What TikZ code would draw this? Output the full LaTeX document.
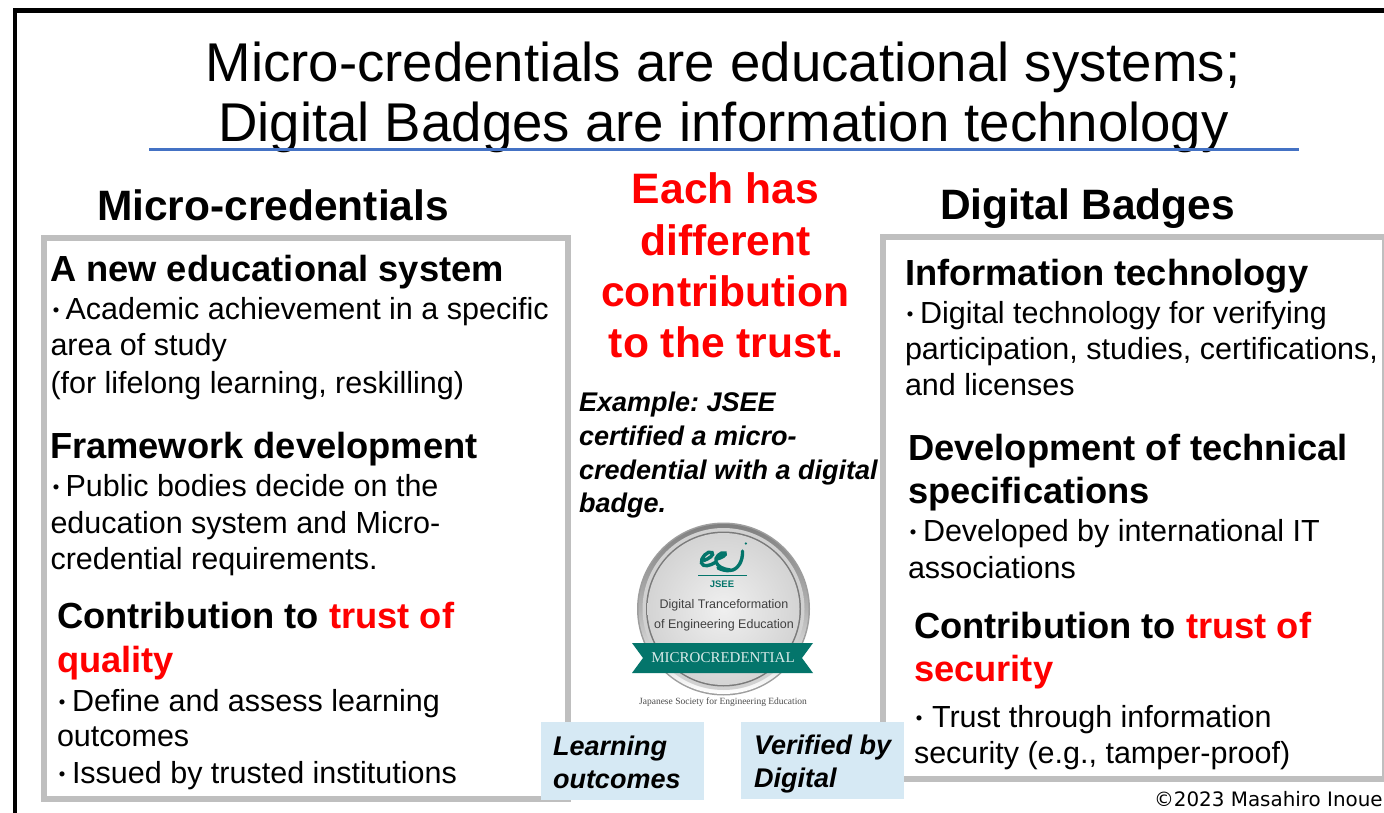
\documentclass[tikz,border=0pt]{standalone}
\usepackage{fontspec}
\setmainfont{Liberation Sans}
\newfontfamily\serifbadge{Liberation Serif}
\newfontfamily\cjk{Noto Sans CJK JP}
\newfontfamily\dejavu{DejaVu Sans}
\definecolor{boxgray}{HTML}{BFBFBF}
\definecolor{rulecol}{HTML}{4472C4}
\definecolor{tagblue}{HTML}{D6E9F4}
\definecolor{teal}{HTML}{04756B}
\definecolor{trustred}{HTML}{FF0000}
\newcommand{\fs}[1]{\fontsize{#1}{#1}\selectfont}
\newcommand{\bul}{\makebox[11pt][c]{\cjk\fontsize{24}{24}\selectfont ・}\kern4pt}
\frenchspacing
\tikzset{
  x=1pt,y=-1pt,
  txt/.style={anchor=base west,inner sep=0pt,outer sep=0pt},
  ttl/.style={txt,font=\fs{54.6}},
  hd/.style={txt,font=\fs{42.5}\bfseries},
  sub/.style={txt,font=\fs{36.3}\bfseries},
  body/.style={txt,font=\fs{30.5}},
  mid/.style={txt,anchor=base,font=\fs{42.6}\bfseries,text=trustred},
  ex/.style={txt,font=\fs{27}\bfseries\itshape},
  panel/.style={draw=boxgray,line width=6pt,fill=white},
  tag/.style={fill=tagblue,draw=none},
  logo/.style={draw=teal,line width=3.4pt,line cap=round},
}
\begin{document}
\begin{tikzpicture}
\useasboundingbox (0,0) rectangle (1384,813);
\fill[white] (0,0) rectangle (1384,813);
\draw[line width=4.6pt] (15,813) -- (15,10.8) -- (1384,10.8);
\node[ttl,anchor=base] (t1) at (723,81.5) {Micro-credentials are educational systems;};
\node[ttl,anchor=base] (t2) at (723.5,142) {Digital Badges are information technology};
\draw[rulecol,line width=3pt] (149,149.5) -- (1299,149.5);
\draw[panel] (43.5,238) rectangle (568,799);
\draw[panel] (883,237) rectangle (1385,779);
\node[hd] (h1) at (97,221) {Micro-credentials};
\node[hd] (h2) at (940,219) {Digital Badges};
% left
\node[sub] at (50,281) {A new educational system};
\node[body] at (50.5,319) {\bul Academic achievement in a specific};
\node[body] at (50.5,355) {area of study};
\node[body] at (50.5,393) {(for lifelong learning, reskilling)};
\node[sub] at (50,458) {Framework development};
\node[body] at (50.5,496) {\bul Public bodies decide on the};
\node[body] at (50.5,533) {education system and Micro-};
\node[body] at (50.5,569) {credential requirements.};
\node[sub] at (57,628.5) {Contribution to \textcolor{trustred}{trust of}};
\node[sub,text=trustred] at (57,672) {quality};
\node[body] at (57,711) {\bul Define and assess learning};
\node[body] at (57,746) {outcomes};
\node[body] at (57,783) {\bul Issued by trusted institutions};
% right
\node[sub] at (905,285) {Information technology};
\node[body] at (905,323) {\bul Digital technology for verifying};
\node[body] at (905,359) {participation, studies, certifications,};
\node[body] at (905,395) {and licenses};
\node[sub] at (908,460) {Development of technical};
\node[sub] at (908,503) {specifications};
\node[body] at (908,541) {\bul Developed by international IT};
\node[body] at (908,578) {associations};
\node[sub] at (914,638) {Contribution to \textcolor{trustred}{trust of}};
\node[sub,text=trustred] at (914,681) {security};
\node[body] at (914,727) {\bul\kern3pt Trust through information};
\node[body] at (914,763) {security (e.g., tamper-proof)};
% middle
\node[mid] at (725.5,204) {Each has};
\node[mid] at (725.5,255) {different};
\node[mid] at (725.5,306) {contribution};
\node[mid] at (726,357) {to the trust.};
\node[ex] at (579,411) {Example: JSEE};
\node[ex] at (579,445) {certified a micro-};
\node[ex] at (579,479) {credential with a digital};
\node[ex] at (579,512) {badge.};
% badge
\coordinate (bc) at (723.5,609);
\fill[black!38] (bc) circle (86.5);
\shade[inner color=black!5,outer color=white,middle color=black!30] (bc) circle (85);
\fill[black!18] (bc) circle (81);
\fill[black!52] (bc) circle (77.5);
\shade[inner color=black!6,outer color=black!17] (bc) circle (76);
\fill[teal] (632,643) -- (813,643) -- (802,658) -- (813,673) -- (632,673) -- (643,658) -- cycle;
\node[anchor=center,inner sep=0pt,text=white!85!teal,font=\serifbadge\fs{15}] at (723,658) {MICROCREDENTIAL};
\node[anchor=center,inner sep=0pt,text=black!75,font=\fs{12.5}] at (724,605) {Digital Tranceformation};
\node[anchor=center,inner sep=0pt,text=black!75,font=\fs{12.5}] at (724,625) {of Engineering Education};
\node[anchor=center,inner sep=0pt,text=teal,font=\fs{9.5}\bfseries] at (722,584) {JSEE};
\draw[teal,line width=1.8pt] (698,575.5) -- (747,575.5);
\draw[logo] (704,560.5) .. controls (708,559) and (715,555) .. (712,552.5) .. controls (708,550) and (700,558) .. (701.5,563) .. controls (703,567.5) and (710,566) .. (716,562);
\draw[logo] (717,559) .. controls (721,558) and (727,555) .. (725,553) .. controls (721,551) and (714,558) .. (716,562) .. controls (718,567) and (723,569) .. (730,570);
\draw[logo] (742.5,551) .. controls (743,561) and (738,570) .. (730,570.5) .. controls (726,571) and (722,570) .. (718,568);
\fill[teal] (745.8,543.5) circle (1.3);
\node[anchor=center,inner sep=0pt,text=black!70,font=\serifbadge\fs{9.5}] at (723,702) {Japanese Society for Engineering Education};
% tags
\fill[tag] (541,722) rectangle (704,799.5);
\fill[tag] (741,722) rectangle (904,799);
\node[ex] at (553,755) {Learning};
\node[ex] at (553,788) {outcomes};
\node[ex] at (754,754) {Verified by};
\node[ex] at (754,787) {Digital};
\node[txt,font=\dejavu\fs{19.9}] at (1154,806) {©2023 Masahiro Inoue};
\end{tikzpicture}
\end{document}
